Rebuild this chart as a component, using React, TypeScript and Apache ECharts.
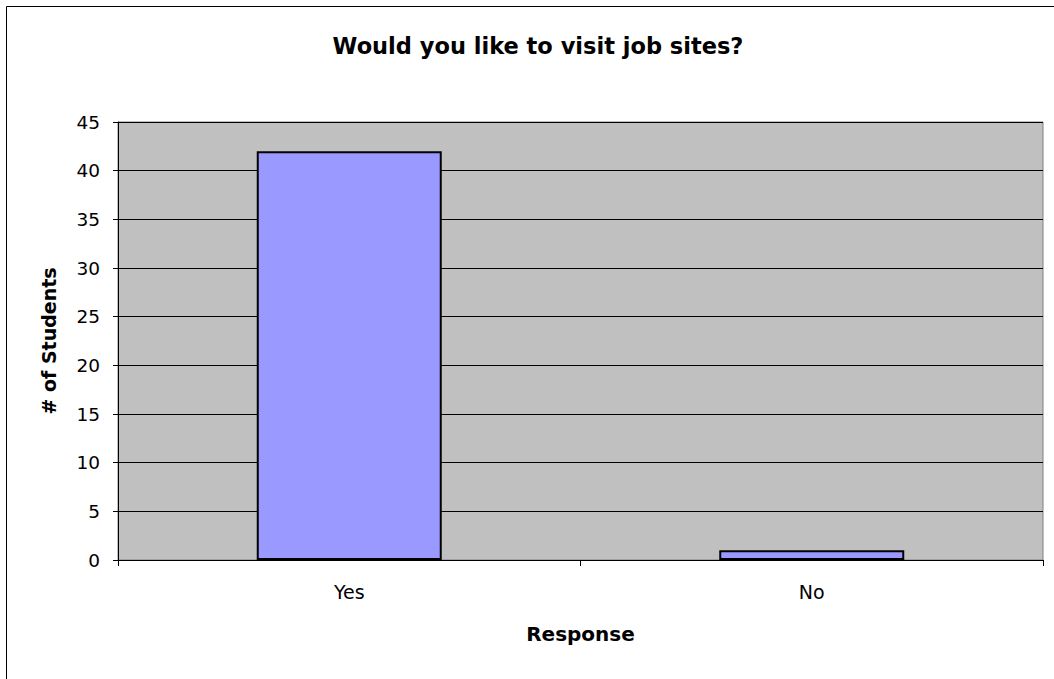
import React, { useEffect, useRef } from "react";
import * as echarts from "echarts";

const titleText = "Would you like to visit job sites?";
const categories = ["Yes", "No"];
const studentCounts = [42, 1];
const yAxisName = "# of Students";
const xAxisName = "Response";

const FONT = "'DejaVu Sans', 'Liberation Sans', Arial, sans-serif";

export default function App() {
  const ref = useRef<HTMLDivElement>(null);
  useEffect(() => {
    if (!ref.current) return;
    const chart = echarts.init(ref.current, undefined, { renderer: "svg" });
    chart.setOption({
      animation: false,
      backgroundColor: "#FFFFFF",
      title: {
        text: titleText,
        left: 533,
        top: 29,
        textAlign: "center",
        textStyle: { fontFamily: FONT, fontSize: 22.5, fontWeight: "bold", color: "#000" },
      },
      graphic: [
        {
          type: "rect",
          z: -1,
          shape: { x: 6.5, y: 6.5, width: 1100, height: 700 },
          style: { fill: "none", stroke: "#000", lineWidth: 1 },
        },
      ],
      grid: {
        left: 118,
        top: 122,
        right: 11,
        bottom: 119,
        show: true,
        backgroundColor: "#C0C0C0",
        borderColor: "#808080",
        borderWidth: 1,
      },
      xAxis: {
        type: "category",
        data: categories,
        boundaryGap: true,
        name: xAxisName,
        nameLocation: "middle",
        nameGap: 64,
        nameTextStyle: { fontFamily: FONT, fontSize: 20, fontWeight: "bold", color: "#000" },
        axisLine: { show: true, lineStyle: { color: "#000", width: 1 } },
        axisTick: { show: true, alignWithLabel: false, length: 6, lineStyle: { color: "#000" } },
        axisLabel: { fontFamily: FONT, fontSize: 19, color: "#000", margin: 22 },
        splitLine: { show: false },
      },
      yAxis: {
        type: "value",
        min: 0,
        max: 45,
        interval: 5,
        name: yAxisName,
        nameLocation: "middle",
        nameGap: 60,
        nameTextStyle: { fontFamily: FONT, fontSize: 19, fontWeight: "bold", color: "#000" },
        axisLine: { show: true, lineStyle: { color: "#000", width: 1 } },
        axisTick: { show: true, length: 5, lineStyle: { color: "#000" } },
        axisLabel: { fontFamily: FONT, fontSize: 18.5, color: "#000", margin: 18 },
        splitLine: { show: true, lineStyle: { color: "#000", width: 1 } },
      },
      series: [
        {
          type: "bar",
          data: studentCounts,
          barWidth: "40%",
          itemStyle: { color: "#9999FF", borderColor: "#000", borderWidth: 2 },
        },
      ],
    });
    return () => chart.dispose();
  }, []);
  return (
    <div
      ref={ref}
      style={{ position: "fixed", left: 0, top: 0, width: 1054, height: 679 }}
    />
  );
}
